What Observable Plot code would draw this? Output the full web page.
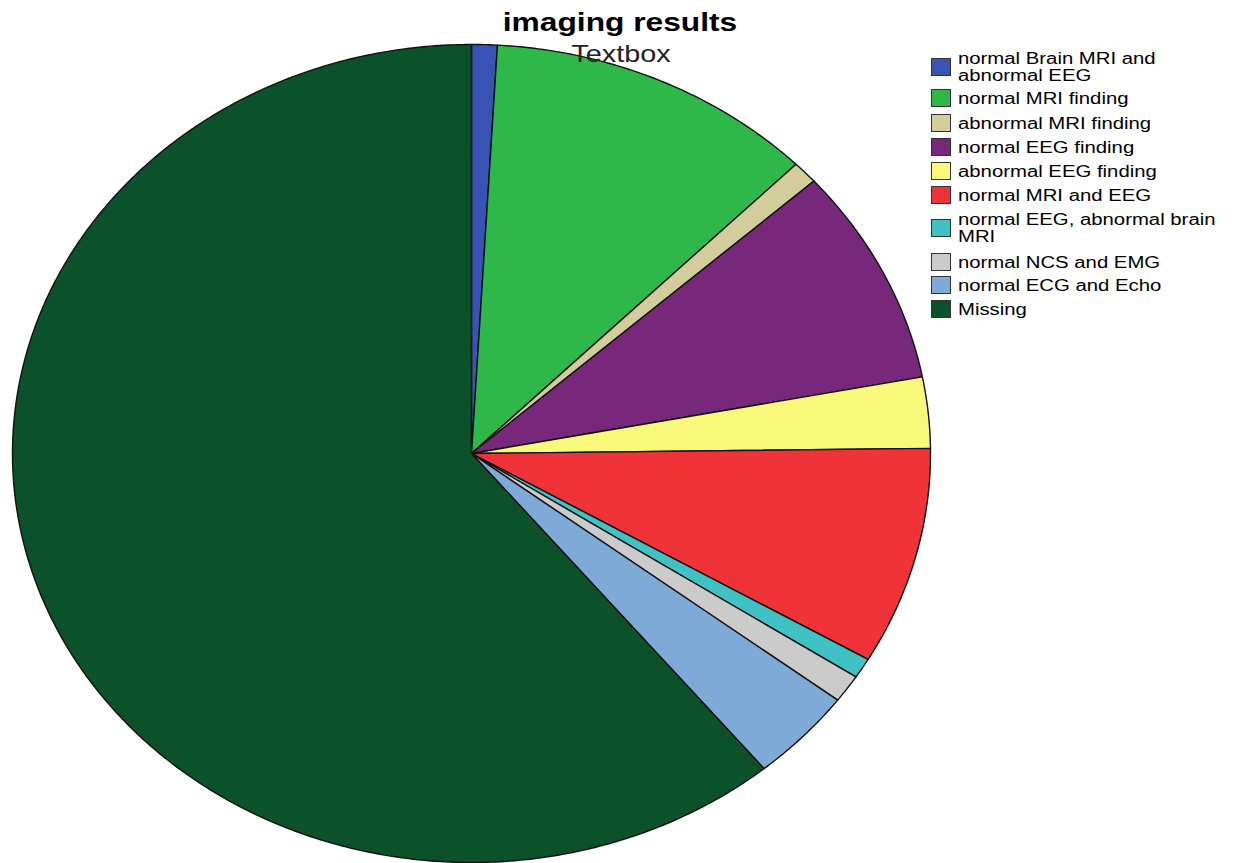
<!DOCTYPE html>
<html>
<head>
<meta charset="utf-8">
<script src="https://cdn.jsdelivr.net/npm/d3@7"></script>
<script src="https://cdn.jsdelivr.net/npm/@observablehq/plot@0.6"></script>
<style>
  html, body { margin: 0; padding: 0; background: #fff; }
  #wrap { position: relative; width: 1240px; height: 863px; overflow: hidden; font-family: "Liberation Sans", Arial, sans-serif; }
  #chart { position: absolute; left: 0; top: 0; }
  .title { position: absolute; left: 620px; top: 7px; transform: translateX(-50%) scaleX(1.22); font-weight: bold; font-size: 26px; color: #000; white-space: nowrap; z-index: 2; }
  .sub { position: absolute; left: 621px; top: 40px; transform: translateX(-50%) scaleX(1.2); font-size: 24px; color: #222; white-space: nowrap; z-index: 2; }
  .leg { position: absolute; left: 931px; z-index: 2; }
  .leg .sw { position: absolute; left: 0; width: 18px; height: 16px; border: 1px solid #333; transform: translateY(-50%); }
  .leg .tx { position: absolute; left: 27px; font-size: 16px; line-height: 17px; color: #000; white-space: nowrap; transform: translateY(-50%) scaleX(1.27); transform-origin: left center; }
</style>
</head>
<body>
<div id="wrap">
  <div id="chart"></div>
  <div class="title">imaging results</div>
  <div class="sub">Textbox</div>
  <div class="leg" id="legend"></div>
</div>
<script>
// Data (percent of cases)
const categories = [
  "normal Brain MRI and abnormal EEG",
  "normal MRI finding",
  "abnormal MRI finding",
  "normal EEG finding",
  "abnormal EEG finding",
  "normal MRI and EEG",
  "normal EEG, abnormal brain MRI",
  "normal NCS and EMG",
  "normal ECG and Echo",
  "Missing"
];
const legendLines = [
  ["normal Brain MRI and", "abnormal EEG"],
  ["normal MRI finding"],
  ["abnormal MRI finding"],
  ["normal EEG finding"],
  ["abnormal EEG finding"],
  ["normal MRI and EEG"],
  ["normal EEG, abnormal brain", "MRI"],
  ["normal NCS and EMG"],
  ["normal ECG and Echo"],
  ["Missing"]
];
const values = [0.9, 11.6, 0.9, 8.6, 2.8, 8.6, 0.8, 1.1, 3.7, 61.0];
const colors = ["#3953b4", "#2eb84a", "#d3cd9b", "#77287a", "#f8f87a", "#ef3339", "#40c1c3", "#cbcbcb", "#7eaad8", "#0b5129"];

// Build slice outlines (unit circle, stretched into the ellipse by the x/y scales)
const pie = d3.pie().sort(null).value(d => d.v);
const arcs = pie(categories.map((c, i) => ({c, v: values[i]})));
const pts = [];
arcs.forEach(a => {
  const key = a.data.c;
  pts.push({k: key, x: 0, y: 0});
  const n = Math.max(4, Math.ceil((a.endAngle - a.startAngle) / 0.01));
  for (let j = 0; j <= n; j++) {
    const t = a.startAngle + (a.endAngle - a.startAngle) * j / n;
    pts.push({k: key, x: Math.sin(t), y: Math.cos(t)});
  }
  pts.push({k: key, x: 0, y: 0});
});

const plot = Plot.plot({
  width: 1240,
  height: 863,
  marginLeft: 12,
  marginRight: 310,
  marginTop: 44,
  marginBottom: 1,
  x: {domain: [-1, 1], axis: null},
  y: {domain: [-1, 1], axis: null},
  color: {domain: categories, range: colors, legend: false},
  style: {background: "transparent", overflow: "visible"},
  marks: [
    Plot.line(pts, {x: "x", y: "y", z: "k", fill: "k", stroke: "#111", strokeWidth: 1.4, strokeLinejoin: "round", curve: "linear"})
  ]
});
document.getElementById("chart").appendChild(plot);

// Legend
const rowCenters = [66.5, 97.5, 122.5, 146.5, 170.5, 194.5, 228, 261.5, 285, 308.5];
const leg = document.getElementById("legend");
categories.forEach((c, i) => {
  const sw = document.createElement("div");
  sw.className = "sw";
  sw.style.top = rowCenters[i] + "px";
  sw.style.background = colors[i];
  leg.appendChild(sw);
  const tx = document.createElement("div");
  tx.className = "tx";
  tx.style.top = rowCenters[i] + "px";
  tx.innerHTML = legendLines[i].join("<br>");
  leg.appendChild(tx);
});
</script>
</body>
</html>
